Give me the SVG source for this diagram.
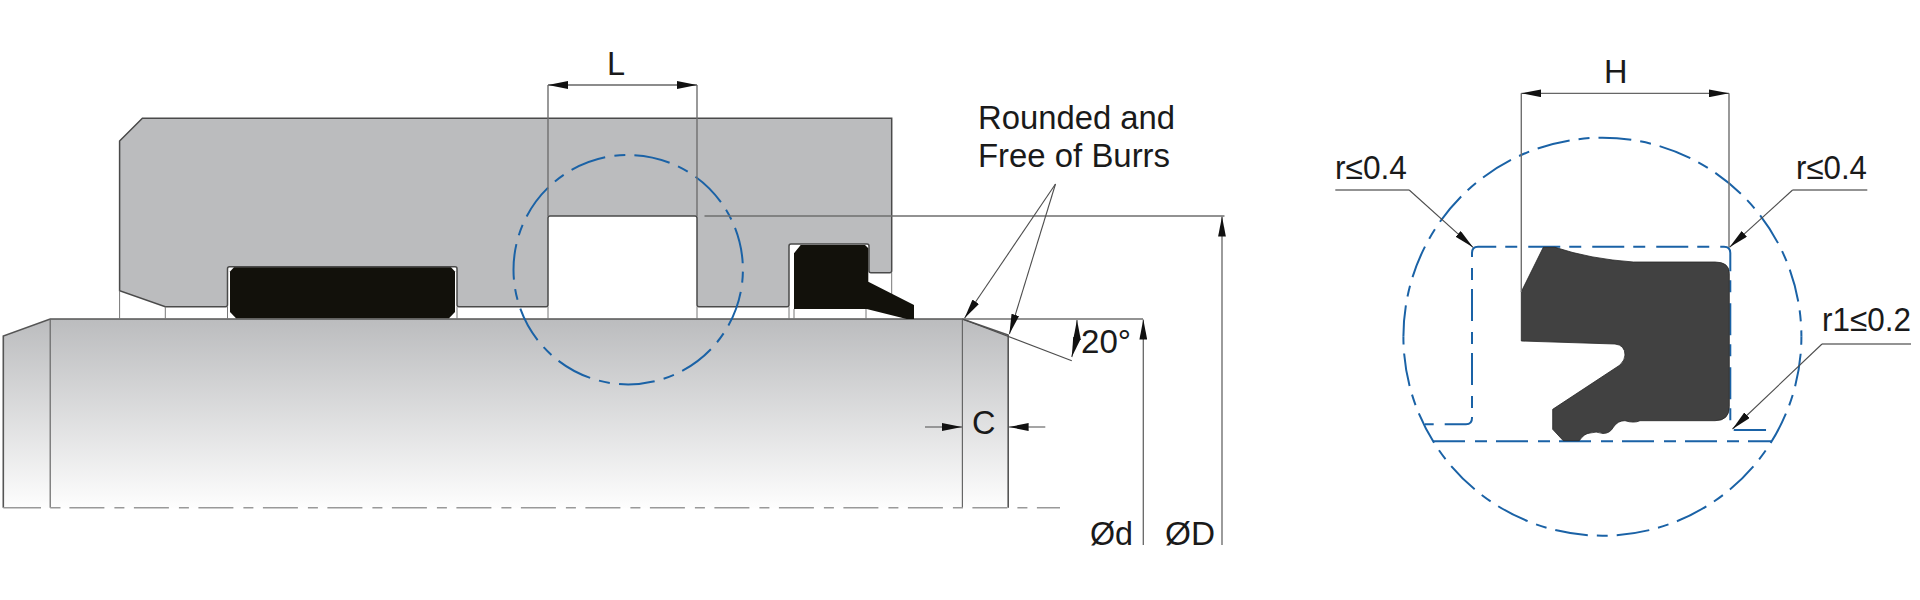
<svg xmlns="http://www.w3.org/2000/svg" width="1920" height="600" viewBox="0 0 1920 600">
<style>
.t{font-family:"Liberation Sans",Arial,sans-serif;font-size:32.5px;fill:#1a1a1a}
.ext{fill:none;stroke:#777;stroke-width:1}
.dim{fill:none;stroke:#6f6f6f;stroke-width:1.4}
.lead{fill:none;stroke:#4d4d4d;stroke-width:1.1}
.blue{fill:none;stroke:#1a62a6;stroke-width:2}
.arrow{fill:none;stroke:#666;stroke-width:1.3;marker-end:url(#ah)}
</style>
<defs>
<linearGradient id="sg" gradientUnits="userSpaceOnUse" x1="0" y1="319" x2="0" y2="507"><stop offset="0" stop-color="#bbbcbe"/><stop offset="1" stop-color="#fdfdfd"/></linearGradient>
<marker id="ah" markerUnits="userSpaceOnUse" markerWidth="20" markerHeight="8" refX="18" refY="3.5" orient="auto" viewBox="0 0 18 7"><path d="M0,0 L18,3.5 L0,7 Z" fill="#111"/></marker>
</defs>
<rect width="1920" height="600" fill="#fff"/>
<g id="shaft">
<path d="M3.3,507.7 V336 L50.2,319 H962.4 L1008.2,335 V507.7 Z" fill="url(#sg)"/>
<path d="M3.3,507.7 V336 L50.2,319 H962.4 L1008.2,335 V507.7" fill="none" stroke="#555" stroke-width="1.6"/>
<path d="M50.2,319 V507.7 M962.4,319 V507.7" fill="none" stroke="#666" stroke-width="1.2"/>
</g>
<g id="centre-line">
<path d="M3.3,507.7 H41 M50.2,507.7 H60.5" fill="none" stroke="#999" stroke-width="1.6"/>
<path d="M69.4,507.7 H1060" fill="none" stroke="#999" stroke-width="1.6" stroke-dasharray="35 10 10 9.5"/>
</g>
<g id="housing">
<path d="M119.6,141 L142.4,118.3 H891.7 V270.7 Q891.7,272.7 889.7,272.7 H871 Q869,272.7 869,270.7 V246 Q869,244 867,244 H791 Q789,244 789,246 V304.7 Q789,306.7 787,306.7 H699 Q697,306.7 697,304.7 V218 Q697,216 695,216 H550 Q548,216 548,218 V304.7 Q548,306.7 546,306.7 H459 Q457,306.7 457,304.7 V268.7 Q457,266.7 455,266.7 H229.5 Q227.5,266.7 227.5,268.7 V304.7 Q227.5,306.7 225.5,306.7 H165.3 L119.6,290.7 Z" fill="#bbbcbe" stroke="#4a4a4a" stroke-width="1.5"/>
</g>
<g id="projection-lines">
<path class="ext" d="M119.6,290.7 V319 M165.3,306.7 V319 M227.5,306.7 V319 M457,306.7 V319 M548,306.7 V319 M697,306.7 V319 M789,306.7 V319 M794,309 V319 M866,309 V319 M891.7,272.7 V300"/>
</g>
<g id="rod-seal"><path d="M234,267.3 H451 L455,271.5 V312 L449,318.3 H236 L230,312 V271.5 Z" fill="#12110b"/></g>
<g id="wiper-seal"><path d="M794,253.3 L800.7,245 H865 L868.3,248.3 V281.7 L914,305 V319 H906.7 L866.7,309 H794 Z" fill="#12110b"/></g>
<g id="detail-circle-small"><circle class="blue" cx="628.2" cy="269.7" r="114.7" stroke-dasharray="11 9.3 36 9.2" stroke-dashoffset="-2"/></g>
<g id="connectors">
<path class="dim" d="M548,85 V216 M697,85 V216 M704.5,216 H1224.5"/>
<path class="arrow" d="M622,85 H548"/><path class="arrow" d="M622,85 H697"/>
<path class="dim" d="M962.4,319 H1143"/>
<path class="arrow" d="M1143.3,545 V319.5"/>
<path class="arrow" d="M1222,545 V216.5"/>
<path class="lead" d="M962.4,319 L1071.8,360.7"/>
<path class="lead" d="M1075,338 Q1077,330 1077,320" marker-end="url(#ah)"/>
<path class="lead" d="M1075,338 Q1074.5,347 1071.8,357" marker-end="url(#ah)"/>
<path class="lead" d="M1055.5,184 L964.5,318.3" marker-end="url(#ah)"/>
<path class="lead" d="M1055.5,184 L1009.4,334" marker-end="url(#ah)"/>
<path class="lead" d="M925,427 H962" marker-end="url(#ah)"/>
<path class="lead" d="M1045.3,427 H1008.6" marker-end="url(#ah)"/>
</g>
<g id="detail-circle-large">
<path class="blue" d="M1801.4,336.7 A199,199 0 0 1 1403.4,336.7" stroke-dasharray="33 9 11 9" stroke-dashoffset="-17.1"/>
<path class="blue" d="M1403.4,336.7 A199,199 0 0 1 1801.4,336.7" stroke-dasharray="33 9 11 9" stroke-dashoffset="1.5"/>
</g>
<g id="groove-outline">
<path class="blue" d="M1425,424.3 H1466 Q1472,424.3 1472,418 V253 Q1472,246.7 1478,246.7 H1724 Q1730.3,246.7 1730.3,253 V424 Q1730.3,430 1736,430 H1773.5" stroke-dasharray="32 9 12 11" stroke-dashoffset="-19.7"/>
<path class="blue" d="M1433,441.3 H1771.6" stroke-dasharray="32 10 12 9"/>
</g>
<g id="seal-detail"><path d="M1521.3,291.7 L1543.3,247.3 H1555 Q1590,259 1633.3,262 H1715 Q1729.3,262 1729.3,273.3 V406.7 Q1729.3,420.7 1715,420.7 H1640 Q1634,423.5 1625,420.7 Q1618,420.5 1613.5,427 Q1610,433.5 1603,433.5 Q1596,431 1590,433 Q1584,433.5 1579.3,440.7 H1563.3 L1552.7,429.3 V409.3 L1620,365 Q1625,360 1625,355 Q1625,345 1615,344 L1521.3,341 Z" fill="#414141" stroke="#262626" stroke-width="0.8"/></g>
<g id="detail-connectors">
<path class="dim" d="M1521.3,93.3 V292 M1729,93.3 V247"/>
<path class="arrow" d="M1620,93.3 H1521.3"/><path class="arrow" d="M1620,93.3 H1729"/>
<path class="dim" d="M1335.3,190 H1409.2"/><path class="lead" d="M1409.2,190 L1473,247.3" marker-end="url(#ah)"/>
<path class="dim" d="M1867.3,190 H1792.6"/><path class="lead" d="M1792.6,190 L1729.5,247.3" marker-end="url(#ah)"/>
<path class="dim" d="M1911,344 H1822"/><path class="lead" d="M1822,344 L1732.5,429" marker-end="url(#ah)"/>
</g>
<g id="labels">
<text class="t" x="607" y="75">L</text>
<text class="t" x="978" y="129" textLength="197" lengthAdjust="spacingAndGlyphs">Rounded and</text>
<text class="t" x="978" y="166.7" textLength="192" lengthAdjust="spacingAndGlyphs">Free of Burrs</text>
<text class="t" x="1081" y="353" textLength="50" lengthAdjust="spacingAndGlyphs">20°</text>
<text class="t" x="972" y="434">C</text>
<text class="t" x="1090" y="545" textLength="43" lengthAdjust="spacingAndGlyphs">Ød</text>
<text class="t" x="1165" y="545" textLength="50" lengthAdjust="spacingAndGlyphs">ØD</text>
<text class="t" x="1604" y="83.3">H</text>
<text class="t" x="1335" y="179" textLength="72" lengthAdjust="spacingAndGlyphs">r≤0.4</text>
<text class="t" x="1796" y="179" textLength="71" lengthAdjust="spacingAndGlyphs">r≤0.4</text>
<text class="t" x="1822" y="331" textLength="89" lengthAdjust="spacingAndGlyphs">r1≤0.2</text>
</g>
</svg>
